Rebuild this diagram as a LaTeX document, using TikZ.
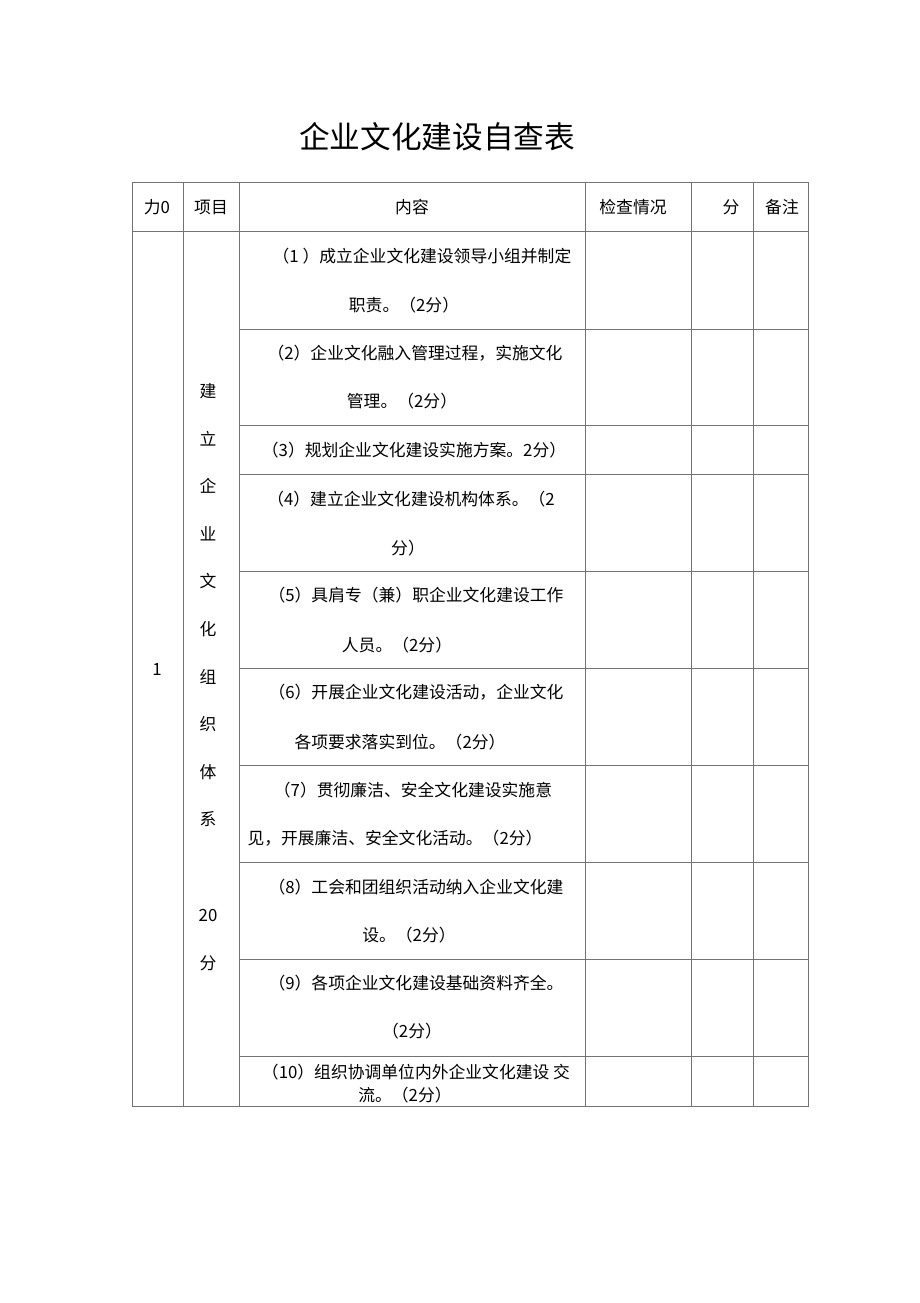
\documentclass[tikz,border=0pt]{standalone}
\usepackage{fontspec}
\setmainfont{Noto Sans CJK SC}
\usetikzlibrary{positioning}

\begin{document}
\begin{tikzpicture}[x=0.75pt, y=-0.75pt, every node/.style={font=\fontsize{12.6}{14}\selectfont, inner sep=0pt},
    gitter/.style={draw=black!55, line width=0.6pt}]
    \useasboundingbox (0,0) rectangle (920,1303);

    % Titel
    \node (titel) at (437,137) {\fontsize{23}{26}\selectfont 企业文化建设自查表};

    % Tabellenrahmen
    \draw[gitter] (132,182) rectangle (808,1106);
    \foreach \x in {183,239,585,691,753} {
        \draw[gitter] (\x,182) -- (\x,1106);
    }
    \draw[gitter] (132,231) -- (808,231);
    \foreach \y in {329,425,474,571,668,765,862,959,1056} {
        \draw[gitter] (239,\y) -- (808,\y);
    }

    % Kopfzeile
    \node (kopfNr) at (157,207) {力0};
    \node (kopfProjekt) at (211,207) {项目};
    \node (kopfInhalt) at (412,207) {内容};
    \node (kopfPruefung) at (633,207) {检查情况};
    \node (kopfPunkte) at (731,207) {分};
    \node (kopfBemerkung) at (782,207) {备注};

    % Nummer und Projekt
    \node (nummer) at (157,670) {1};
    \foreach \z [count=\i] in {建,立,企,业,文,化,组,织,体,系} {
        \node (projekt\i) at (208,{391+47.6*(\i-1)}) {\z};
    }
    \node (projektPunkte) at (208,915) {20};
    \node (projektFen) at (208,963) {分};

    % Inhalt (zweizeilig)
    \foreach \n/\ya/\xa/\ta/\yb/\xb/\tb in {
        1/256/422/（1 ）成立企业文化建设领导小组并制定/305/404/职责。（2分）,
        2/353/415/（2）企业文化融入管理过程，实施文化/401/402/管理。（2分）,
        4/499/411/（4）建立企业文化建设机构体系。（2/548/408/分）,
        5/595/416/（5）具肩专（兼）职企业文化建设工作/645/397/人员。（2分）,
        6/692/416/（6）开展企业文化建设活动，企业文化/742/400/各项要求落实到位。（2分）,
        7/790/413/（7）贯彻廉洁、安全文化建设实施意/838/395/见，开展廉洁、安全文化活动。（2分）,
        8/887/416/（8）工会和团组织活动纳入企业文化建/935/409/设。（2分）,
        9/983/416/（9）各项企业文化建设基础资料齐全。/1031/412/（2分）,
        10/1072/416/（10）组织协调单位内外企业文化建设 交/1095/405/流。（2分）} {
        \node (zeile\n-a) at (\xa,\ya) {\ta};
        \node (zeile\n-b) at (\xb,\yb) {\tb};
    }
    \node (zeile3) at (414,450) {（3）规划企业文化建设实施方案。2分）};
\end{tikzpicture}
\end{document}
